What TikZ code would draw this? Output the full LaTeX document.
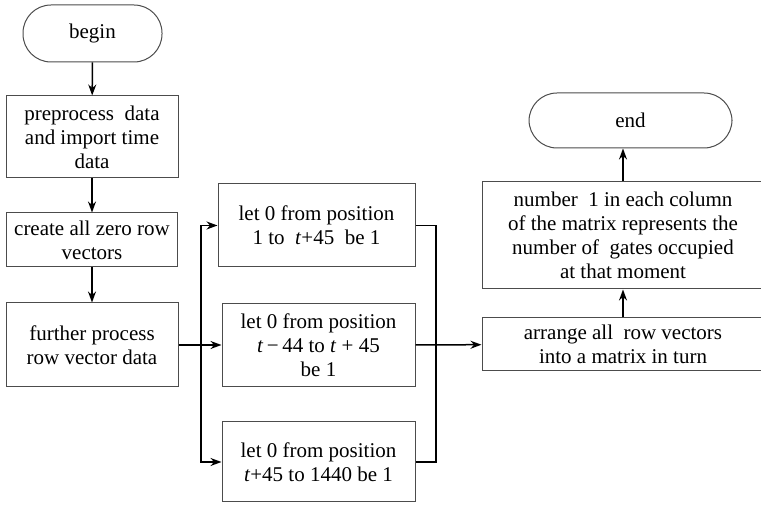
\documentclass[tikz,border=0pt]{standalone}
\usepackage{fontspec}
\setmainfont{Liberation Serif}
\newfontfamily\boxfont{Liberation Serif}
\usetikzlibrary{arrows.meta}

\begin{document}
\begin{tikzpicture}[x=0.5pt,y=-0.5pt,
        font=\boxfont\fontsize{10.5}{12}\selectfont,
        box/.style={draw=black!70,line width=0.5pt,align=center,inner sep=1pt},
        term/.style={box,rounded corners=14pt},
        flow/.style={line width=0.75pt,-{Stealth[length=5.5pt,width=4pt]}},
        link/.style={line width=0.75pt}]
        \useasboundingbox (0,0) rectangle (761,506);
        %% left column
        \node[term,minimum width=69.5pt,minimum height=28.5pt] (begin) at (92.5,33.5) {begin};
        \node[box,minimum width=86pt,minimum height=41pt] (prep) at (92,137) {preprocess\ \ data\\and import time\\data};
        \node[box,minimum width=85.5pt,minimum height=27pt] (zero) at (92,240) {create all zero row\\vectors};
        \node[box,minimum width=86pt,minimum height=42pt] (further) at (92,345) {further process\\row vector data};
        %% middle column
        \node[box,minimum width=98.5pt,minimum height=41.5pt] (posa) at (316.5,225.5) {let 0 from position\\1 to\ \ \textit{t}+45\ \ be 1};
        \node[box,minimum width=96.5pt,minimum height=41.5pt] (posb) at (318.5,345) {let 0 from position\\\textit{t}\,−\,44 to \textit{t} + 45\\be 1};
        \node[box,minimum width=96.5pt,minimum height=40pt] (posc) at (318.5,462) {let 0 from position\\\textit{t}+45 to 1440 be 1};
        %% right column
        \node[term,minimum width=101.5pt,minimum height=27.5pt] (end) at (630.5,120.5) {end};
        \node[box,minimum width=141pt,minimum height=53.5pt] (count) at (623,235.5) {number\ \ 1 in each column\\of the matrix represents the\\number of\ \ gates occupied\\at that moment};
        \node[box,minimum width=141pt,minimum height=26.5pt] (arrange) at (623,344.5) {arrange all\ \ row vectors\\into a matrix in turn};
        %% split and join points
        \coordinate (split) at (201,345);
        \coordinate (join) at (436,345);
        %% connectors
        \draw[flow] (begin) -- (prep);
        \draw[flow] (prep) -- (zero);
        \draw[flow] (zero) -- (further);
        \draw[flow] (further) -- (posb);
        \draw[flow] (split) |- (posa.west);
        \draw[flow] (split) |- (posc.west);
        \draw[link] (posa.east) -| (join) |- (posc.east);
        \draw[flow] (posb) -- (arrange);
        \draw[flow] (arrange) -- (count);
        \draw[flow] (count.north) -- (count.north |- end.south);
\end{tikzpicture}
\end{document}
